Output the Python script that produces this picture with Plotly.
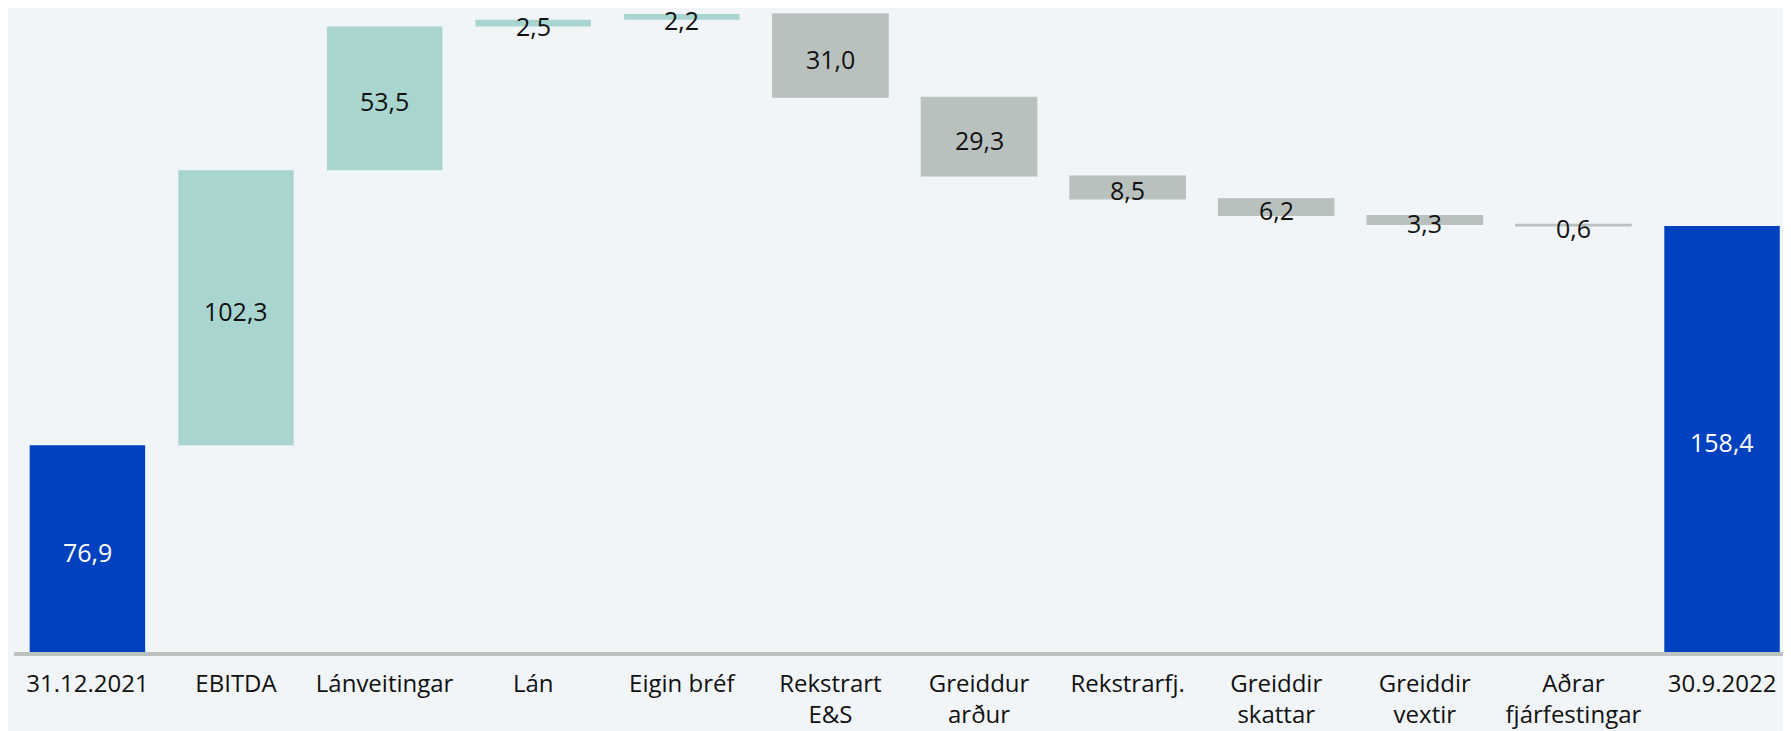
import plotly.graph_objects as go

categories = ["31.12.2021", "EBITDA", "Lánveitingar", "Lán", "Eigin bréf", "Rekstrart<br>E&S",
              "Greiddur<br>arður", "Rekstrarfj.", "Greiddir<br>skattar", "Greiddir<br>vextir",
              "Aðrar<br>fjárfestingar", "30.9.2022"]
values = [76.9, 102.3, 53.5, 2.5, 2.2, -31.0, -29.3, -8.5, -6.2, -3.3, -0.6, 158.4]
measures = ["absolute"] + ["relative"] * 10 + ["total"]

BLUE = "#0041BF"
TEAL = "#A9D5D0"
GRAY = "#B9C1BF"
BG = "#F1F5F8"
FONT = "Open Sans"

x = list(range(len(categories)))

# midpoints of each bar for labels
mids = []
cum = 0.0
for v, m in zip(values, measures):
    if m == "absolute":
        mids.append(v / 2)
        cum = v
    elif m == "total":
        mids.append(cum / 2)
    else:
        mids.append(cum + v / 2)
        cum += v

labels = [f"{abs(v):.1f}".replace(".", ",") for v in values]
label_colors = ["white" if m != "relative" else "#111111" for m in measures]

fig = go.Figure()
fig.add_trace(go.Waterfall(
    x=x, y=values, measure=measures,
    increasing=dict(marker=dict(color=TEAL)),
    decreasing=dict(marker=dict(color=GRAY, line=dict(color=GRAY, width=1.2))),
    totals=dict(marker=dict(color=BLUE)),
    connector=dict(visible=False),
    textposition="none",
    hoverinfo="skip",
    showlegend=False,
))

annotations = []
for xi, yi, t, c in zip(x, mids, labels, label_colors):
    annotations.append(dict(
        x=xi, y=yi, xref="x", yref="y", text=t, showarrow=False,
        font=dict(family=FONT, size=25, color=c), yshift=-3,
        xanchor="center", yanchor="middle",
    ))

fig.update_layout(
    width=1791, height=731,
    paper_bgcolor=BG, plot_bgcolor=BG,
    margin=dict(l=6, r=0, t=0, b=87),
    waterfallgap=0.223,
    font=dict(family=FONT, size=24, color="#111111"),
    annotations=annotations,
    xaxis=dict(
        tickmode="array", tickvals=x, ticktext=categories,
        range=[-0.494, 11.518],
        showline=True, linecolor="#BBC2C0", linewidth=4,
        showgrid=False, zeroline=False, ticks="",
        ticklabelstandoff=7,
        tickfont=dict(family=FONT, size=24, color="#111111"),
    ),
    yaxis=dict(range=[0, 239.6], visible=False, showgrid=False, zeroline=False),
)

fig.write_html("out.html")
